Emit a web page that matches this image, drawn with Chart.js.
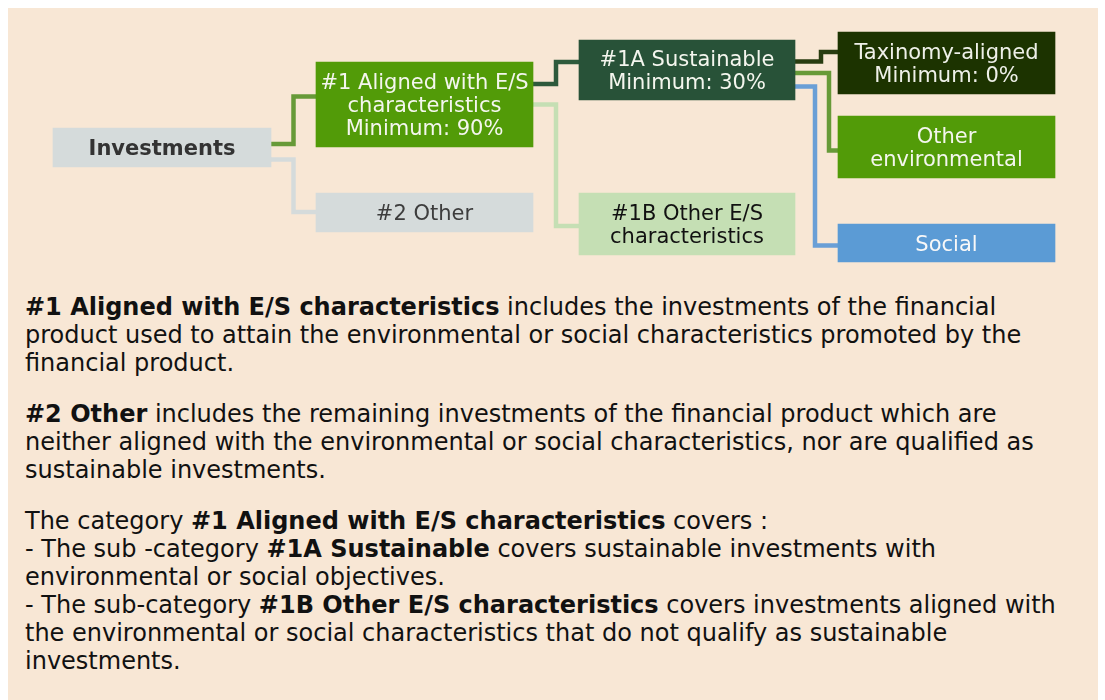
<!DOCTYPE html>
<html>
<head>
<meta charset="utf-8">
<script src="https://cdn.jsdelivr.net/npm/chart.js@4"></script>
<style>
  html, body { margin: 0; padding: 0; background: #ffffff; }
  #panel {
    position: absolute; left: 8px; top: 8px; width: 1090px; height: 700px;
    background: #f8e7d5;
  }
  #chartWrap { position: absolute; left: 0; top: 0; width: 1105px; height: 280px; }
  #notes {
    position: absolute; left: 25px; top: 293px; width: 1060px;
    font-family: 'DejaVu Sans', sans-serif; font-size: 24px; line-height: 28px;
    color: #111111; white-space: nowrap;
  }
  #notes p { margin: 0 0 23px 0; }
</style>
</head>
<body>
<div id="panel"></div>
<div id="chartWrap"><canvas id="treeChart" width="1105" height="280"></canvas></div>
<div id="notes">
  <p><b>#1 Aligned with E/S characteristics</b> includes the investments of the financial<br>
  product used to attain the environmental or social characteristics promoted by the<br>
  financial product.</p>
  <p><b>#2 Other</b> includes the remaining investments of the financial product which are<br>
  neither aligned with the environmental or social characteristics, nor are qualified as<br>
  sustainable investments.</p>
  <p>The category <b>#1 Aligned with E/S characteristics</b> covers :<br>
  - The sub -category <b>#1A Sustainable</b> covers sustainable investments with<br>
  environmental or social objectives.<br>
  - The sub-category <b>#1B Other E/S characteristics</b> covers investments aligned with<br>
  the environmental or social characteristics that do not qualify as sustainable<br>
  investments.</p>
</div>
<script>
// Tree data
const nodeNames = [
  'Investments',
  '#1 Aligned with E/S\ncharacteristics',
  '#2 Other',
  '#1A Sustainable',
  '#1B Other E/S\ncharacteristics',
  'Taxinomy-aligned',
  'Other\nenvironmental',
  'Social'
];
const nodeMinimums = [null, 90, null, 30, null, 0, null, null];
const nodeParents = [null, 0, 0, 1, 1, 3, 3, 3];

// Layout and styles (page pixels)
const layout = {
  left:   [53, 316, 316, 579, 579, 838, 838, 838],
  right:  [271, 533, 533, 795, 795, 1055, 1055, 1055],
  top:    [128, 62, 193, 40, 193, 32, 116, 224],
  bottom: [167, 147, 232, 100, 255, 94, 178, 262],
  fill:   ['#d5dbdb', '#529b08', '#d5dbdb', '#285238', '#c5dfb4', '#1c3300', '#529b08', '#5b9bd5'],
  ink:    ['#333333', '#f4f6ee', '#3d3d3d', '#f4f6ee', '#111111', '#eef0e8', '#f4f6ee', '#f8f8f8'],
  bold:   [true, false, false, false, false, false, false, false],
  // connector for each child: y leaving parent, x of the vertical run, y entering child
  linkStartY: [null, 144, 159.5, 84, 104.5, 61.5, 73, 86.5],
  linkMidX:   [null, 293.5, 293.5, 556, 556, 821, 829, 815],
  linkEndY:   [null, 96.5, 212, 62, 226, 52, 150.5, 245.5],
  linkColor:  [null, '#679a38', '#d5dbdb', '#2e5a3c', '#c5dfb4', '#283c10', '#679a38', '#6a9fd6']
};

function nodeLines(i) {
  const lines = nodeNames[i].split('\n');
  if (nodeMinimums[i] !== null) lines.push('Minimum: ' + nodeMinimums[i] + '%');
  return lines;
}

const boxDatasets = nodeNames.map((name, i) => ({
  type: 'bar',
  label: name,
  data: [{ x: [layout.left[i], layout.right[i]], y: (layout.top[i] + layout.bottom[i]) / 2 }],
  backgroundColor: layout.fill[i],
  borderWidth: 0,
  barThickness: layout.bottom[i] - layout.top[i],
  grouped: false,
  order: 1
}));

const linkDatasets = [];
nodeParents.forEach((p, i) => {
  if (p === null) return;
  const x0 = layout.right[p];
  const x1 = layout.left[i];
  const xm = layout.linkMidX[i];
  linkDatasets.push({
    type: 'line',
    label: nodeNames[p] + ' -> ' + nodeNames[i],
    data: [
      { x: x0, y: layout.linkStartY[i] },
      { x: xm, y: layout.linkStartY[i] },
      { x: xm, y: layout.linkEndY[i] },
      { x: x1, y: layout.linkEndY[i] }
    ],
    borderColor: layout.linkColor[i],
    borderWidth: 4.5,
    borderJoinStyle: 'miter',
    borderCapStyle: 'butt',
    pointRadius: 0,
    tension: 0,
    fill: false,
    indexAxis: 'x',
    order: 2
  });
});

const boxLabels = {
  id: 'boxLabels',
  afterDatasetsDraw(chart) {
    const ctx = chart.ctx;
    const xs = chart.scales.x;
    const ys = chart.scales.y;
    ctx.save();
    ctx.textAlign = 'center';
    ctx.textBaseline = 'middle';
    nodeNames.forEach((name, i) => {
      const lines = nodeLines(i);
      const cx = xs.getPixelForValue((layout.left[i] + layout.right[i]) / 2);
      const cy = ys.getPixelForValue((layout.top[i] + layout.bottom[i]) / 2);
      const lh = 23;
      ctx.font = (layout.bold[i] ? 'bold ' : '') + "21px 'DejaVu Sans'";
      ctx.fillStyle = layout.ink[i];
      lines.forEach((ln, k) => {
        ctx.fillText(ln, cx, cy + (k - (lines.length - 1) / 2) * lh + 2.5);
      });
    });
    ctx.restore();
  }
};

const ctx = document.getElementById('treeChart').getContext('2d');
window.treeChart = new Chart(ctx, {
  type: 'bar',
  data: { datasets: [...linkDatasets, ...boxDatasets] },
  options: {
    indexAxis: 'y',
    responsive: false,
    animation: false,
    layout: { padding: 0 },
    plugins: { legend: { display: false }, tooltip: { enabled: false } },
    scales: {
      x: { type: 'linear', min: 0, max: 1105, offset: false, display: false },
      y: { type: 'linear', min: 0, max: 280, reverse: true, offset: false, display: false }
    }
  },
  plugins: [boxLabels]
});
</script>
</body>
</html>
